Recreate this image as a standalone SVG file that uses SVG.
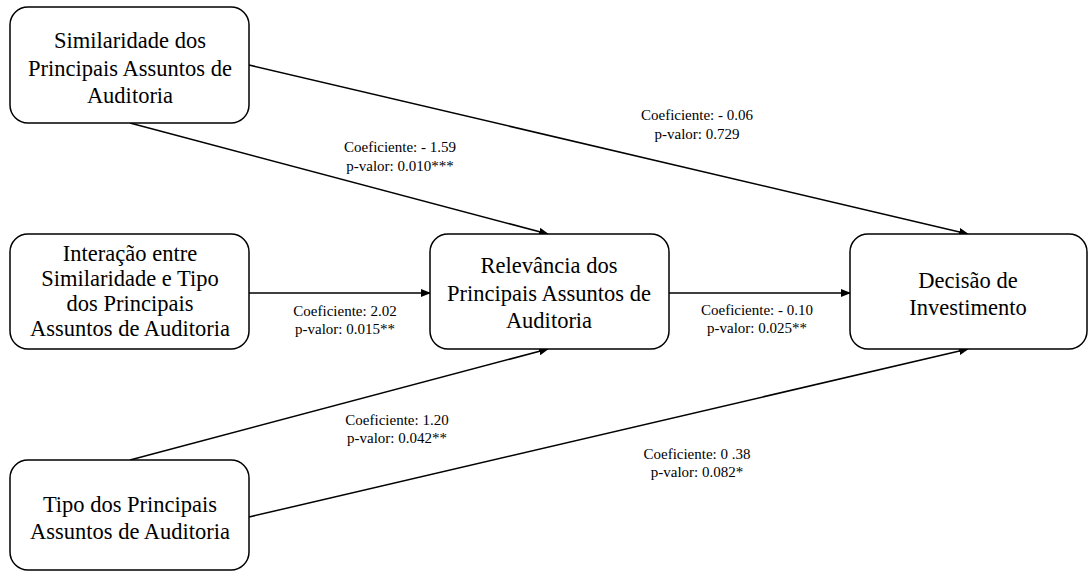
<svg xmlns="http://www.w3.org/2000/svg" width="1088" height="573" viewBox="0 0 1088 573">
<defs>
<marker id="ah" markerWidth="10" markerHeight="8" refX="9" refY="4" orient="auto" markerUnits="userSpaceOnUse">
<path d="M0,0 L10,4 L0,8 Z" fill="#000"/>
</marker>
<style>
.box{fill:#fff;stroke:#000;stroke-width:1.5}
.t{font-family:"Liberation Serif","Times New Roman",serif;font-size:22.5px;fill:#000;text-anchor:middle}
.l{font-family:"Liberation Serif","Times New Roman",serif;font-size:15px;fill:#000;text-anchor:middle}
.c{stroke:#000;stroke-width:1.5;fill:none;marker-end:url(#ah)}
</style>
</defs>
<rect width="1088" height="573" fill="#fff"/>
<g id="connectors">
<line class="c" x1="249" y1="65" x2="968" y2="234"/>
<line class="c" x1="130" y1="123" x2="548" y2="234"/>
<line class="c" x1="249" y1="293" x2="430" y2="293"/>
<line class="c" x1="669" y1="293" x2="850" y2="293"/>
<line class="c" x1="130" y1="460" x2="548" y2="349"/>
<line class="c" x1="249" y1="517" x2="968" y2="349"/>
<text class="l" x="400" y="152">Coeficiente: - 1.59</text>
<text class="l" x="400" y="171">p-valor: 0.010***</text>
<text class="l" x="697" y="120">Coeficiente: - 0.06</text>
<text class="l" x="697" y="139">p-valor: 0.729</text>
<text class="l" x="345" y="316">Coeficiente: 2.02</text>
<text class="l" x="345" y="334">p-valor: 0.015**</text>
<text class="l" x="757" y="315">Coeficiente: - 0.10</text>
<text class="l" x="757" y="333">p-valor: 0.025**</text>
<text class="l" x="397" y="425">Coeficiente: 1.20</text>
<text class="l" x="397" y="443">p-valor: 0.042**</text>
<text class="l" x="697" y="459">Coeficiente: 0 .38</text>
<text class="l" x="697" y="477">p-valor: 0.082*</text>
</g>
<g id="similaridade">
<rect class="box" x="10" y="7" width="239" height="116" rx="18"/>
<text class="t" x="130" y="48">Similaridade dos</text>
<text class="t" x="130" y="76">Principais Assuntos de</text>
<text class="t" x="130" y="103">Auditoria</text>
</g>
<g id="interacao">
<rect class="box" x="10" y="234" width="239" height="115" rx="18"/>
<text class="t" x="130" y="261">Interação entre</text>
<text class="t" x="130" y="286">Similaridade e Tipo</text>
<text class="t" x="130" y="311">dos Principais</text>
<text class="t" x="130" y="336">Assuntos de Auditoria</text>
</g>
<g id="tipo">
<rect class="box" x="10" y="460" width="239" height="110" rx="18"/>
<text class="t" x="130" y="512">Tipo dos Principais</text>
<text class="t" x="130" y="539">Assuntos de Auditoria</text>
</g>
<g id="relevancia">
<rect class="box" x="430" y="234" width="239" height="115" rx="18"/>
<text class="t" x="549" y="273">Relevância dos</text>
<text class="t" x="549" y="301">Principais Assuntos de</text>
<text class="t" x="549" y="328">Auditoria</text>
</g>
<g id="decisao">
<rect class="box" x="850" y="234" width="237" height="115" rx="18"/>
<text class="t" x="968" y="288">Decisão de</text>
<text class="t" x="968" y="315">Investimento</text>
</g>
</svg>
